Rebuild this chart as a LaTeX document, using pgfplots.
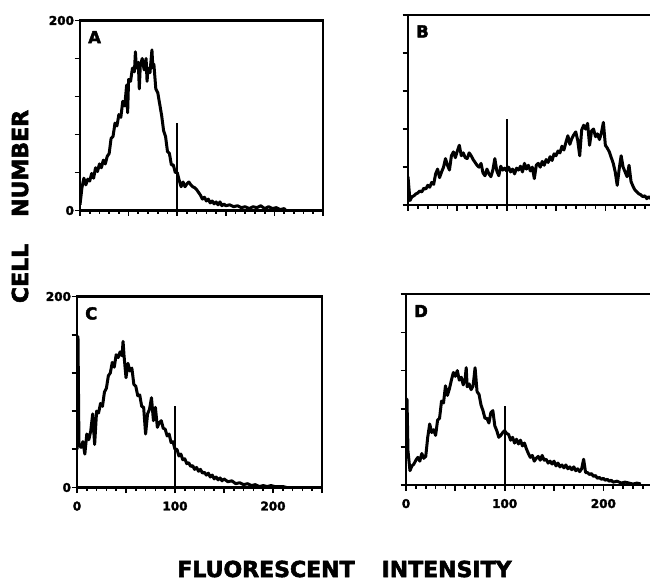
\documentclass[border=0pt]{standalone}
\usepackage{fontspec}
\setmainfont{DejaVu Sans}
\newfontfamily\heavy{DejaVu Sans Bold}[FakeBold=2.5]
\usepackage{pgfplots}
\usepackage{pgfplotstable}
\pgfplotsset{compat=1.18}

% histogram channels
\pgfplotstableread{
x y
0 6
2 24
4 34
6 27
8 33
10 31
12 39
14 34
16 45
18 41
20 49
22 45
24 53
26 49
28 57
30 60
32 76
34 78
36 92
38 89
40 101
42 98
44 115
46 110
48 132
49 103
50 138
52 136
54 150
56 146
57 167
58 150
60 156
61 128
62 152
64 160
66 148
68 160
69 136
70 150
72 145
74 169
75 150
76 154
78 128
80 124
82 112
84 100
86 84
88 78
90 62
92 60
94 48
96 48
98 40
100 40
102 32
104 25
106 30
108 25
110 28
112 30
114 27
116 25
118 24
120 22
122 19
124 16
126 12
128 14
130 10
132 12
134 8
136 10
138 7
140 9
142 6
144 9
146 5
148 7
150 5
154 6
158 4
162 5
166 3
170 4
174 2
178 4
182 3
186 5
190 2
194 4
198 2
202 3
206 1
210 2
212 0
}\dataA

\pgfplotstableread{
x y
0 30
2 5
4 9
6 10
8 12
10 13
12 15
14 14
16 18
18 17
20 21
22 19
24 24
26 22
28 33
30 38
32 29
34 35
36 40
38 49
40 42
42 37
44 52
46 56
48 50
50 57
52 63
54 52
56 55
58 50
60 49
62 55
64 52
66 48
68 45
70 42
72 40
74 44
76 34
78 31
80 38
82 33
84 30
86 37
88 49
90 36
92 31
94 41
96 37
98 39
100 36
102 40
104 35
106 38
108 33
110 39
112 37
114 41
116 35
118 44
120 38
122 42
124 36
126 40
128 28
130 42
132 44
134 40
136 46
138 42
140 48
142 45
144 51
146 47
148 54
150 52
152 57
154 55
156 62
158 58
160 66
162 73
164 64
166 70
168 74
170 77
172 68
174 52
176 79
178 84
180 80
182 86
184 63
186 78
188 80
190 72
192 75
194 69
196 76
198 87
200 63
202 60
204 56
206 50
208 44
210 35
212 21
214 38
216 52
218 40
220 35
222 30
224 42
226 25
228 20
230 16
232 14
234 12
236 11
238 9
240 10
242 7
244 9
246 7
248 8
250 7
}\dataB

\pgfplotstableread{
x y
0 40
1 158
2 45
4 42
6 48
8 35
10 56
12 50
14 59
16 77
18 45
20 80
22 78
24 88
26 85
28 100
30 104
32 117
34 120
36 131
38 126
40 139
42 136
44 142
46 138
47 153
48 138
50 115
52 130
54 122
56 125
58 108
60 106
62 96
64 97
66 85
68 84
70 56
72 77
74 82
76 94
78 70
80 84
82 63
84 68
86 70
88 62
90 61
92 54
94 56
96 47
98 48
100 40
102 40
104 33
106 35
108 29
110 30
112 25
114 26
116 22
118 23
120 19
122 21
124 17
126 19
128 15
130 16
132 13
134 15
136 11
138 13
140 9
142 11
144 8
146 10
148 7
150 9
154 6
158 7
162 4
166 5
170 3
174 4
178 2
182 3
186 1
190 2
194 1
198 2
202 1
206 1
210 1
214 0
}\dataC

\pgfplotstableread{
x y
0 30
1 90
2 36
4 15
6 20
8 22
10 26
12 29
14 25
16 33
18 28
20 30
22 50
24 64
26 55
28 58
30 52
32 68
34 70
36 88
38 86
40 104
42 94
44 101
46 110
48 118
50 114
52 120
54 110
56 113
58 105
60 112
61 123
62 103
64 106
66 100
68 104
70 123
72 98
74 95
76 84
78 78
80 70
82 70
84 65
86 76
88 78
90 62
92 57
94 50
96 52
98 55
100 57
102 54
104 53
106 47
108 50
110 44
112 48
114 43
116 47
118 41
120 44
122 38
124 33
126 29
128 31
130 25
132 28
134 30
136 26
138 31
140 26
142 27
144 23
146 25
148 22
150 25
152 20
154 23
156 19
158 21
160 18
162 21
164 17
166 19
168 16
170 19
172 15
174 17
176 14
178 17
180 27
182 13
184 13
186 11
188 12
190 9
192 10
194 7
196 8
198 6
200 7
202 5
204 6
206 4
208 5
210 3
214 4
218 2
222 3
226 2
230 1
234 2
238 1
}\dataD

\pgfplotsset{
  panel/.style={
    scale only axis, anchor=south west,
    xmin=0, xmax=250, ymin=0, ymax=200,
    axis line style={line width=2.2pt},
    xtick={0,50,...,250}, minor x tick num=4,
    ytick={0,40,...,200},
    tick pos=left, tick align=outside,
    major tick length=5.5pt, minor tick length=3.5pt,
    every tick/.style={black, line width=1.7pt},
    ticklabel style={font=\heavy\fontsize{12}{12}\selectfont},
    xticklabel style={yshift=-5pt},
    yticklabel style={xshift=3pt},
    /pgf/number format/assume math mode=true,
    xticklabels={}, yticklabels={},
  },
  hist/.style={black, line width=3pt, line join=round, no markers},
}
\tikzset{
  letter/.style={anchor=north west, inner sep=0pt, xshift=8pt, yshift=-10.5pt,
    font=\heavy\fontsize{16.5}{16.5}\selectfont},
}

\begin{document}
\begin{tikzpicture}
\useasboundingbox (0pt,0pt) rectangle (650pt,581pt);

\begin{axis}[panel, at={(80pt,370.5pt)}, width=243pt, height=190pt,
  yticklabels={0,,,,,200}]
  \addplot[hist] table {\dataA};
  \addplot[hist, line width=2.2pt] coordinates {(100,0) (100,92)};
  \node[letter] at (rel axis cs:0,1) {A};
\end{axis}

\begin{axis}[panel, at={(408pt,375.7pt)}, width=246.7pt, height=190.6pt]
  \addplot[hist] table {\dataB};
  \addplot[hist, line width=2.2pt] coordinates {(100,0) (100,91)};
  \node[letter] at (rel axis cs:0,1) {B};
\end{axis}

\begin{axis}[panel, at={(77pt,93.5pt)}, width=245pt, height=191pt,
  yticklabels={0,,,,,200}, xticklabels={0,,100,,200,}]
  \addplot[hist] table {\dataC};
  \addplot[hist, line width=2.2pt] coordinates {(100,0) (100,85)};
  \node[letter] at (rel axis cs:0,1) {C};
\end{axis}

\begin{axis}[panel, at={(406pt,96pt)}, width=246.7pt, height=190.7pt,
  xticklabels={0,,100,,200,}]
  \addplot[hist] table {\dataD};
  \addplot[hist, line width=2.2pt] coordinates {(100,0) (100,83)};
  \node[letter] at (rel axis cs:0,1) {D};
\end{axis}

\node[rotate=90, font=\heavy\fontsize{22}{22}\selectfont] at (20pt,374.5pt)
  {CELL\hspace{27pt}NUMBER};
\node[font=\heavy\fontsize{22}{22}\selectfont] at (344.5pt,12pt)
  {FLUORESCENT\hspace{27pt}INTENSITY};
\end{tikzpicture}
\end{document}
